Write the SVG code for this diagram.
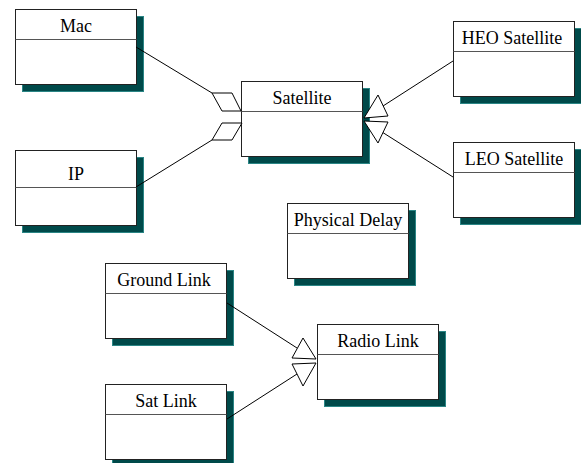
<svg xmlns="http://www.w3.org/2000/svg" width="581" height="463" viewBox="0 0 581 463">
  <style>
    .shadow { fill: #004a4a; stroke: #2a8585; stroke-width: 1; }
    .box { fill: #ffffff; stroke: #222222; stroke-width: 1; }
    .div { stroke: #555555; stroke-width: 1; }
    .label { font-family: "Liberation Serif", "Times New Roman", serif; font-size: 18px; fill: #000000; text-anchor: middle; }
    .edge { stroke: #000000; stroke-width: 1; fill: none; }
    .head { stroke: #000000; stroke-width: 1; fill: #ffffff; stroke-linejoin: miter; }
  </style>
  <defs>
    <!-- UML class frame: shadow and border; the name divider is added per class -->
    <g id="classframe">
      <rect class="shadow" x="7.5" y="7.5" width="121" height="75"/>
      <rect class="box" x="0.5" y="0.5" width="121" height="75"/>
    </g>
  </defs>

  <g id="mac" transform="translate(15,9)">
    <use href="#classframe"/>
    <line class="div" x1="0.5" y1="30.5" x2="121.5" y2="30.5"/>
    <text class="label" x="61" y="23">Mac</text>
  </g>
  <g id="ip" transform="translate(15,150)">
    <use href="#classframe"/>
    <line class="div" x1="0.5" y1="37.5" x2="121.5" y2="37.5"/>
    <text class="label" x="61" y="30">IP</text>
  </g>
  <g id="satellite" transform="translate(241,81)">
    <use href="#classframe"/>
    <line class="div" x1="0.5" y1="30.5" x2="121.5" y2="30.5"/>
    <text class="label" x="61" y="23">Satellite</text>
  </g>
  <g id="heo-satellite" transform="translate(453,21)">
    <use href="#classframe"/>
    <line class="div" x1="0.5" y1="30.5" x2="121.5" y2="30.5"/>
    <text class="label" x="59" y="23">HEO Satellite</text>
  </g>
  <g id="leo-satellite" transform="translate(453,142)">
    <use href="#classframe"/>
    <line class="div" x1="0.5" y1="30.5" x2="121.5" y2="30.5"/>
    <text class="label" x="61" y="23">LEO Satellite</text>
  </g>
  <g id="physical-delay" transform="translate(287,203)">
    <use href="#classframe"/>
    <line class="div" x1="0.5" y1="30.5" x2="121.5" y2="30.5"/>
    <text class="label" x="61" y="23">Physical Delay</text>
  </g>
  <g id="ground-link" transform="translate(105,263)">
    <use href="#classframe"/>
    <line class="div" x1="0.5" y1="30.5" x2="121.5" y2="30.5"/>
    <text class="label" x="59" y="23">Ground Link</text>
  </g>
  <g id="sat-link" transform="translate(105,384)">
    <use href="#classframe"/>
    <line class="div" x1="0.5" y1="30.5" x2="121.5" y2="30.5"/>
    <text class="label" x="61" y="23">Sat Link</text>
  </g>
  <g id="radio-link" transform="translate(317,324)">
    <use href="#classframe"/>
    <line class="div" x1="0.5" y1="30.5" x2="121.5" y2="30.5"/>
    <text class="label" x="61" y="23">Radio Link</text>
  </g>

  <g id="connectors">
    <!-- aggregations into Satellite -->
    <line class="edge" x1="136" y1="47" x2="212" y2="93"/>
    <polygon class="head" points="212,93 232,93 241,111 222,111"/>
    <line class="edge" x1="136" y1="187" x2="212" y2="140"/>
    <polygon class="head" points="222,123 242,123 232,140 212,140"/>
    <!-- generalizations to Satellite -->
    <line class="edge" x1="453" y1="61" x2="383" y2="106"/>
    <polygon class="head" points="378,95 388,116 364,118"/>
    <line class="edge" x1="453" y1="177" x2="382" y2="132"/>
    <polygon class="head" points="364,121 388,122 378,143"/>
    <!-- generalizations to Radio Link -->
    <line class="edge" x1="227" y1="303" x2="297" y2="348"/>
    <polygon class="head" points="303,338 316,359 292,358"/>
    <line class="edge" x1="227" y1="419" x2="297" y2="374"/>
    <polygon class="head" points="292,364 316,363 303,386"/>
  </g>
</svg>
